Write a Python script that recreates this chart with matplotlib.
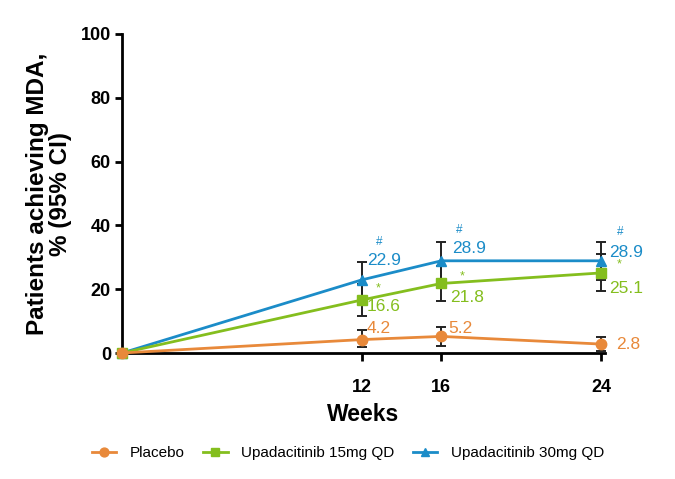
import matplotlib
matplotlib.use("Agg")
import matplotlib.pyplot as plt
import numpy as np

plt.rcParams['font.family'] = ['Liberation Sans', 'DejaVu Sans']

weeks = [0, 12, 16, 24]
xtick_labels = ["12", "16", "24"]
xticks = [12, 16, 24]

series_names = ["Placebo", "Upadacitinib 15mg QD", "Upadacitinib 30mg QD"]
placebo = [0, 4.2, 5.2, 2.8]
upa15 = [0, 16.6, 21.8, 25.1]
upa30 = [0, 22.9, 28.9, 28.9]

placebo_lo = [0, 1.9, 2.2, 0.6]
placebo_hi = [0, 7.2, 8.1, 5.0]
upa15_lo = [0, 11.6, 16.4, 19.5]
upa15_hi = [0, 21.6, 27.3, 31.0]
upa30_lo = [0, 17.4, 22.9, 22.9]
upa30_hi = [0, 28.5, 34.9, 34.9]

upa15_sig = ["", "*", "*", "*"]
upa30_sig = ["", "#", "#", "#"]

colors = ["#E8893A", "#84BE1E", "#1B8CC8"]
markers = ["o", "s", "^"]
msizes = [7.5, 7.2, 7.5]
zords = [5, 4, 3]

fig = plt.figure(figsize=(6.75, 4.79), dpi=100)
ax = fig.add_axes([122/675, 1-353/479, (605-122)/675, (353-34)/479])

data = [placebo, upa15, upa30]
los = [placebo_lo, upa15_lo, upa30_lo]
his = [placebo_hi, upa15_hi, upa30_hi]

handles = []
for vals, lo, hi, c, m, ms, z, name in zip(data, los, his, colors, markers, msizes, zords, series_names):
    vals = np.array(vals, float)
    lo = np.array(lo, float); hi = np.array(hi, float)
    ln, = ax.plot(weeks, vals, color=c, lw=2, marker=m, ms=ms, mec=c, mfc=c,
                  clip_on=False, zorder=z, label=name)
    handles.append(ln)
    w = np.array(weeks[1:])
    ax.errorbar(w, vals[1:], yerr=[vals[1:]-lo[1:], hi[1:]-vals[1:]], fmt='none',
                ecolor='#222222', elinewidth=1.4, capsize=3.3, capthick=1.4, zorder=2,
                clip_on=False)

# value labels (offsets in points)
lab_off = {
    0: [(4, 8), (5, 6), (11, 0)],        # placebo
    1: [(4, -5), (6, -10), (6, -11)],    # 15mg
    2: [(4, 14), (8, 9), (6, 6)],        # 30mg
}
for si, vals in enumerate(data):
    for k in range(1, 4):
        dx, dy = lab_off[si][k-1]
        ax.annotate(f"{vals[k]:.1f}", xy=(weeks[k], vals[k]), xytext=(dx, dy),
                    textcoords='offset points', ha='left', va='center',
                    fontsize=12.5, color=colors[si], zorder=6)

sig15_off = [(12, 8), (15, 5), (13, 6)]
sig30_off = [(13, 27), (13, 22), (14, 21)]
for k in range(1, 4):
    dx, dy = sig15_off[k-1]
    ax.annotate(upa15_sig[k], xy=(weeks[k], upa15[k]), xytext=(dx, dy),
                textcoords='offset points', ha='center', va='center',
                fontsize=9, color=colors[1])
    dx, dy = sig30_off[k-1]
    ax.annotate(upa30_sig[k], xy=(weeks[k], upa30[k]), xytext=(dx, dy),
                textcoords='offset points', ha='center', va='center',
                fontsize=8.5, color=colors[2])

ax.set_xlim(0, 24.2)
ax.set_ylim(0, 100)
ax.set_yticks([0, 20, 40, 60, 80, 100])
ax.set_xticks(xticks)
ax.set_xticklabels(xtick_labels)
for s in ['top', 'right']:
    ax.spines[s].set_visible(False)
for s in ['left', 'bottom']:
    ax.spines[s].set_linewidth(2)
ax.tick_params(axis='y', width=2, length=5, labelsize=13, pad=3)
ax.tick_params(axis='x', width=2, length=5.5, labelsize=13, pad=13)
for t in ax.get_xticklabels() + ax.get_yticklabels():
    t.set_fontweight('bold')

ax.set_ylabel("Patients achieving MDA,\n% (95% CI)", fontsize=17.5, fontweight='bold',
              labelpad=6, linespacing=1.0)
ax.set_xlabel("Weeks", fontsize=16.5, fontweight='bold', labelpad=5)

fig.legend(handles=handles, labels=series_names, loc='center',
           bbox_to_anchor=(348/675, 1-453/479), ncol=3, frameon=False,
           fontsize=11, handlelength=1.6, handletextpad=0.9, columnspacing=1.2,
           markerscale=0.85)

fig.savefig("out.png", dpi=100)
